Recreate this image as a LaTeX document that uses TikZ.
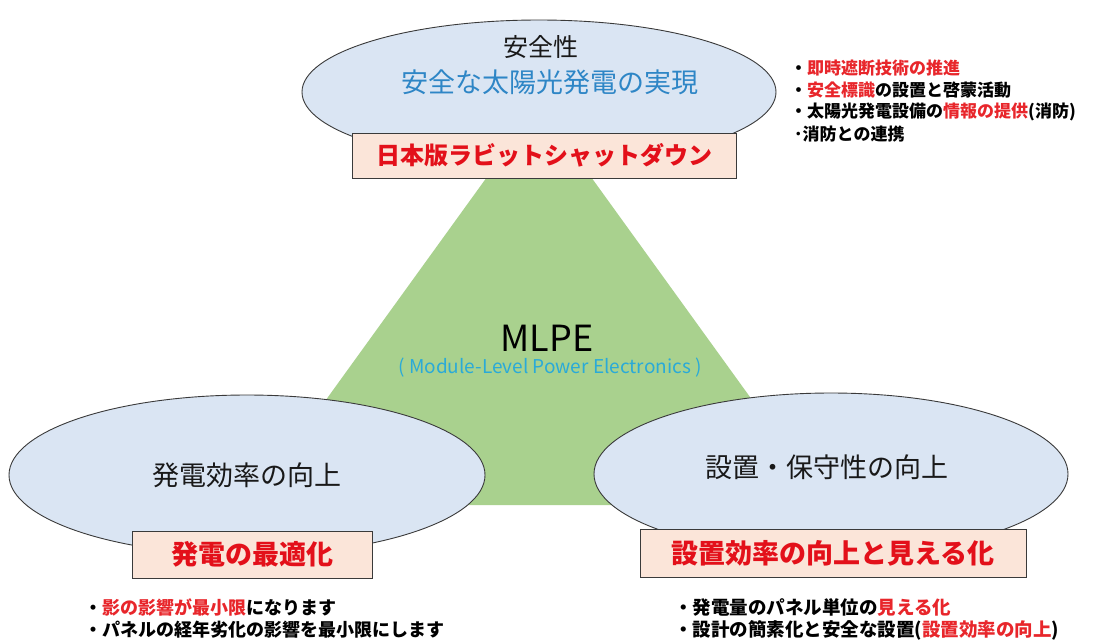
\documentclass[tikz,border=0pt]{standalone}
\usepackage{fontspec}
\setmainfont{Noto Sans CJK JP}
\usetikzlibrary{shapes.geometric}
\definecolor{ellfill}{HTML}{DAE5F3}
\definecolor{trigreen}{HTML}{A9D18E}
\definecolor{boxfill}{HTML}{FBE5D9}
\definecolor{boxred}{HTML}{E3101A}
\definecolor{notered}{HTML}{E8262B}
\definecolor{bluetxt}{HTML}{2E86C6}
\definecolor{cyantxt}{HTML}{2AAAD8}
\definecolor{edgecol}{HTML}{3A3A3A}
\newcommand\setfs[1]{\fontsize{#1pt}{#1pt}\selectfont}
\newcommand\rd[1]{\textcolor{notered}{#1}}
\begin{document}
\begin{tikzpicture}[x=1pt,y=-1pt,
 ell/.style={ellipse, draw=edgecol, line width=0.9pt, fill=ellfill, inner sep=0pt},
 tag/.style={rectangle, draw=edgecol, line width=1pt, fill=boxfill, text=boxred, inner sep=0pt},
 note/.style={anchor=west, inner sep=0pt, font=\setfs{17}\bfseries, text=black},
 big/.style={inner sep=0pt, text=black!90}]
\path[use as bounding box, fill=white] (0,0) rectangle (1107,641);
% central triangle
\coordinate (apex) at (539,105);
\coordinate (bl) at (250,505);
\coordinate (br) at (828,505);
\fill[trigreen] (apex) -- (bl) -- (br) -- cycle;
% ellipses
\node[ell, minimum width=474pt, minimum height=144pt] (safe) at (539,92) {};
\node[ell, minimum width=476pt, minimum height=160pt] (gen) at (247,475) {};
\node[ell, minimum width=474pt, minimum height=162pt] (inst) at (831,474) {};
% ellipse texts
\node[big, font=\setfs{25}] (safeA) at (541,47) {安全性};
\node[big, font=\setfs{27}, text=bluetxt] (safeB) at (550,82) {安全な太陽光発電の実現};
\node[big, font=\setfs{27}] (genT) at (247,475) {発電効率の向上};
\node[big, font=\setfs{27}] (instT) at (827,467) {設置・保守性の向上};
% tag boxes
\node[tag, font=\setfs{24}\bfseries, minimum width=384pt, minimum height=45pt] (rsd) at (544,155.5) {日本版ラビットシャットダウン};
\node[tag, font=\setfs{27}\bfseries, minimum width=240pt, minimum height=47pt] (opt) at (252,554.5) {発電の最適化};
\node[tag, font=\setfs{27}\bfseries, minimum width=386pt, minimum height=48pt] (vis) at (833,553) {設置効率の向上と見える化};
% MLPE
\node[inner sep=0pt, font=\setfs{36}] (mlpe) at (547,338) {MLPE};
\node[inner sep=0pt, font=\setfs{19}, text=cyantxt] (mlpeS) at (550,368) {( Module-Level Power Electronics )};
% notes top right
\node[note] (n1) at (790,68) {・\rd{即時遮断技術の推進}};
\node[note] (n2) at (790,90) {・\rd{安全標識}の設置と啓蒙活動};
\node[note] (n3) at (790,112) {・太陽光発電設備の\rd{情報の提供}(消防)};
\node[note] (n4) at (794,134) {･消防との連携};
% notes bottom left
\node[note, font=\setfs{18}\bfseries] (l1) at (84,607) {・\rd{影の影響が最小限}になります};
\node[note, font=\setfs{18}\bfseries] (l2) at (84,630) {・パネルの経年劣化の影響を最小限にします};
% notes bottom right
\node[note, font=\setfs{18.5}\bfseries] (r1) at (674,607) {・発電量のパネル単位の\rd{見える化}};
\node[note, font=\setfs{18.5}\bfseries] (r2) at (674,630) {・設計の簡素化と安全な設置(\rd{設置効率の向上})};
\end{tikzpicture}
\end{document}
